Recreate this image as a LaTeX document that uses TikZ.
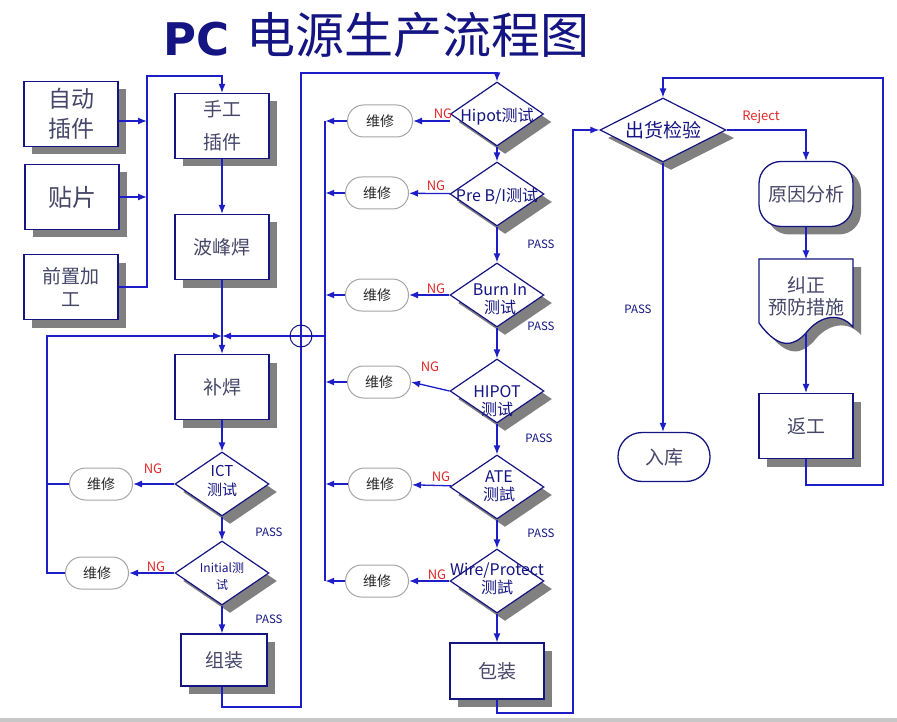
\documentclass[tikz,border=0pt]{standalone}
\usepackage{fontspec}
\setmainfont{Noto Sans CJK SC}
\newfontfamily\pcfont{DejaVu Sans}
\usetikzlibrary{shapes.geometric,arrows.meta,shadows,positioning}
\definecolor{navyb}{RGB}{20,20,130}
\definecolor{lineb}{RGB}{30,30,200}
\definecolor{boxtext}{RGB}{70,70,105}
\definecolor{ngred}{RGB}{225,40,40}
\definecolor{shadowgray}{RGB}{128,128,128}
\definecolor{repgray}{RGB}{165,165,165}
\tikzset{
  shadowed/.style={general shadow={fill=shadowgray, shadow xshift=8pt, shadow yshift=-8pt}},
  plain/.style={rectangle, draw=navyb, line width=1.3pt, fill=white, minimum width=94pt, minimum height=65pt, inner sep=2pt, align=center, text=boxtext, font=\fontsize{19}{30}\selectfont},
  box/.style={plain, shadowed},
  dia/.style={diamond, draw=navyb, line width=1.2pt, fill=white, minimum width=94pt, minimum height=64pt, inner sep=0pt, shadowed},
  dtxt/.style={align=center, text=navyb, inner sep=0pt, font=\fontsize{16}{18}\selectfont},
  repair/.style={rectangle, rounded corners=16pt, draw=repgray, line width=1pt, fill=white, minimum width=63pt, minimum height=32pt, inner sep=0pt, text=black!85, font=\fontsize{14}{16}\selectfont},
  ln/.style={draw=lineb, line width=1.3pt},
  arr/.style={ln, -{Latex[length=9pt,width=7pt]}},
  ng/.style={text=ngred, font=\fontsize{13}{15}\selectfont, inner sep=0pt},
  pass/.style={text=navyb, font=\fontsize{11.5}{13}\selectfont, inner sep=0pt},
}
\begin{document}
\begin{tikzpicture}[x=1pt,y=-1pt]
  \useasboundingbox (0,0) rectangle (897,722);
  \fill[white] (0,0) rectangle (897,722);
  \fill[black!22] (0,718) rectangle (897,722);

  % title
  \node[anchor=base west, text=navyb, font={\pcfont\bfseries\fontsize{45}{50}\selectfont}, inner sep=0pt] (title-pc) at (163,56) {PC};
  \node[anchor=base west, text=navyb, font=\fontsize{49}{52}\selectfont, inner sep=0pt] (title) at (246,54) {电源生产流程图};

  % left column
  \node[box, font=\fontsize{23}{30}\selectfont] (auto) at (71,114) {自动\\插件};
  \node[box, font=\fontsize{24}{28}\selectfont] (smt) at (72,197) {贴片};
  \node[box, font=\fontsize{19}{23}\selectfont] (pre) at (71,287) {前置加\\工};
  \node[box, font=\fontsize{19}{33}\selectfont] (manual) at (222,126) {手工\\插件};
  \node[box] (wave) at (222,247) {波峰焊};
  \node[box] (touch) at (222,387) {补焊};
  \node[dia] (ict) at (222,484) {};
  \node[dtxt, font=\fontsize{15}{19}\selectfont] (ict-t) at (222,481) {ICT\\测试};
  \node[dia] (init) at (222,573) {};
  \node[dtxt, font=\fontsize{12}{17}\selectfont] (init-t) at (222,576) {Initial测\\试};
  \node[box, minimum width=86pt, minimum height=52pt] (assy) at (224,660) {组装};
  \node[repair] (r1) at (101,484) {维修};
  \node[repair] (r2) at (97,573) {维修};

  % middle column
  \node[dia, minimum width=93pt] (hipot) at (497,114) {};
  \node[dtxt] (hipot-t) at (497,117) {Hipot测试};
  \node[dia] (prebi) at (497,194) {};
  \node[dtxt] (prebi-t) at (497,196) {Pre B/I测试};
  \node[dia] (burn) at (497,295) {};
  \node[dtxt] (burn-t) at (500,299) {Burn In\\测试};
  \node[dia] (hipot2) at (497,391) {};
  \node[dtxt] (hipot2-t) at (497,401) {HIPOT\\测试};
  \node[dia] (ate) at (497,487) {};
  \node[dtxt] (ate-t) at (499,486) {ATE\\测試};
  \node[dia] (wire) at (497,581) {};
  \node[dtxt] (wire-t) at (497,579) {Wire/Protect\\测試};
  \node[box, minimum height=56pt] (pack) at (497,671) {包装};
  \node[repair, minimum width=65pt] (m1) at (380,121) {维修};
  \node[repair] (m2) at (377,193) {维修};
  \node[repair] (m3) at (377,295) {维修};
  \node[repair] (m4) at (379,382) {维修};
  \node[repair] (m5) at (380,484) {维修};
  \node[repair] (m6) at (377,581) {维修};

  % right column
  \node[dia, minimum width=126pt] (qc) at (663,130) {};
  \node[dtxt, font=\fontsize{19}{22}\selectfont] (qc-t) at (663,130) {出货检验};
  \node[box, rounded corners=22pt] (cause) at (806,194) {原因分析};
  \fill[shadowgray, shift={(8,8)}] (759,259) -- (853,259) -- (853,327) .. controls (840,312) and (820,315) .. (806,333) .. controls (795,345) and (780,352) .. (759,323) -- cycle;
  \filldraw[fill=white, draw=navyb, line width=1.3pt] (759,259) -- (853,259) -- (853,327) .. controls (840,312) and (820,315) .. (806,333) .. controls (795,345) and (780,352) .. (759,323) -- cycle;
  \node[rectangle, minimum width=94pt, minimum height=73pt, inner sep=0pt, align=center, text=boxtext, font=\fontsize{19}{22}\selectfont] (correct) at (806,296) {纠正\\预防措施};
  \node[box] (rework) at (806,426) {返工};
  \node[plain, rounded corners=24pt, minimum width=92pt, minimum height=49pt] (store) at (664,457) {入库};

  % inputs
  \coordinate (bus) at (147,76);
  \draw[arr] ([yshift=-7pt]auto.east) -- ([yshift=-7pt]auto.east -| bus);
  \draw[arr] (smt.east) -- (smt.east -| bus);
  \draw[arr] (pre.east) -| (bus) -| (manual.north);
  \draw[arr] (manual) -- (wave);

  % rework loops into touch-up
  \coordinate (jn) at (222,336);
  \coordinate (lloop) at (47,336);
  \coordinate (rmid) at (325,336);
  \draw[arr] (wave) -- (touch);
  \draw[arr] (touch) -- (ict);
  \draw[arr] (ict) -- (init);
  \draw[arr] (init.south) -- (init.south |- assy.north);
  \draw[arr] (ict) -- (r1);
  \draw[arr] (init) -- (r2);
  \draw[ln] (r1.west) -- (r1.west -| lloop);
  \draw[arr] (r2.west) -| (lloop) -- (jn);
  \draw[arr] (rmid) -- (jn);
  \draw[ln] (m1.west -| rmid) -- (m6.west -| rmid);
  \foreach \m in {m1,m2,m3,m4,m5,m6}
    \draw[arr, line width=2.2pt] (\m.west) -- (\m.west -| rmid);

  % tests
  \draw[arr] (hipot.west |- m1) -- (m1);
  \draw[arr] (prebi) -- (m2);
  \draw[arr] (burn) -- (m3);
  \draw[arr] (hipot2.west) -- (m4.east);
  \draw[arr] (ate) -- (m5);
  \draw[arr] (wire) -- (m6);
  \foreach \a/\b in {hipot/prebi,prebi/burn,burn/hipot2,hipot2/ate,ate/wire,wire/pack}
    \draw[arr] (\a) -- (\b);
  \draw[arr] (init.south |- assy.south) |- (301,707) -- (301,73) -| (hipot.north);
  \node[circle, draw=navyb, line width=1pt, minimum size=22pt, inner sep=0pt] (jump) at (301,336) {};

  % outgoing inspection
  \draw[arr] (pack.south) |- (573,713) |- (qc.west);
  \draw[arr] (qc.east) -| (cause.north);
  \draw[arr] (cause) -- (correct);
  \draw[arr] (correct.south) -- (rework);
  \draw[arr] (rework.south) |- (883,485) -- (883,78) -| (qc.north);
  \draw[arr] (qc.south) -- (qc.south |- store.north);

  % labels
  \node[ng] (ng-ict) at (153,469) {NG};
  \node[ng] (ng-init) at (156,567) {NG};
  \node[ng] (ng-hipot) at (443,114) {NG};
  \node[ng] (ng-prebi) at (436,186) {NG};
  \node[ng] (ng-burn) at (436,289) {NG};
  \node[ng] (ng-hipot2) at (430,367) {NG};
  \node[ng] (ng-ate) at (441,477) {NG};
  \node[ng] (ng-wire) at (437,575) {NG};
  \node[ng] (reject) at (761,117) {Reject};
  \node[pass] (p1) at (269,532) {PASS};
  \node[pass] (p2) at (269,619) {PASS};
  \node[pass] (p3) at (541,244) {PASS};
  \node[pass] (p4) at (541,326) {PASS};
  \node[pass] (p5) at (539,438) {PASS};
  \node[pass] (p6) at (541,533) {PASS};
  \node[pass] (p7) at (638,309) {PASS};
\end{tikzpicture}
\end{document}
